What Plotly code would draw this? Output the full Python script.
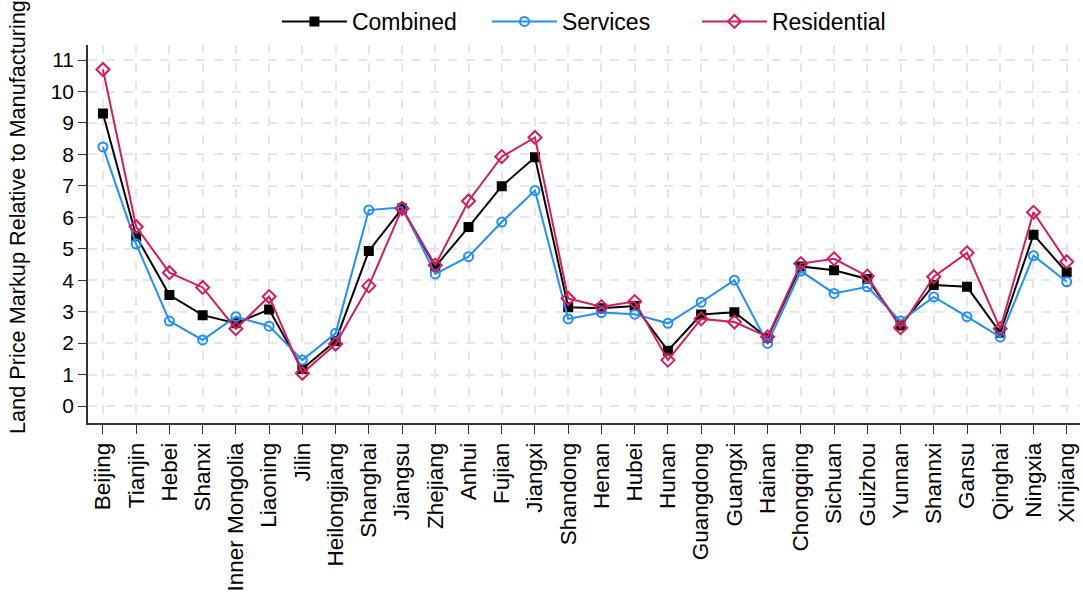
import plotly.graph_objects as go

provinces = ["Beijing", "Tianjin", "Hebei", "Shanxi", "Inner Mongolia", "Liaoning", "Jilin",
             "Heilongjiang", "Shanghai", "Jiangsu", "Zhejiang", "Anhui", "Fujian", "Jiangxi",
             "Shandong", "Henan", "Hubei", "Hunan", "Guangdong", "Guangxi", "Hainan",
             "Chongqing", "Sichuan", "Guizhou", "Yunnan", "Shannxi", "Gansu", "Qinghai",
             "Ningxia", "Xinjiang"]

combined = [9.30, 5.40, 3.53, 2.89, 2.63, 3.07, 1.18, 2.07, 4.93, 6.28, 4.43, 5.69, 6.99, 7.91,
            3.14, 3.11, 3.18, 1.76, 2.91, 2.98, 2.17, 4.44, 4.32, 4.04, 2.56, 3.85, 3.79, 2.33,
            5.45, 4.25]
services = [8.24, 5.15, 2.70, 2.10, 2.84, 2.54, 1.46, 2.31, 6.23, 6.32, 4.20, 4.75, 5.85, 6.85,
            2.77, 2.97, 2.92, 2.63, 3.30, 4.00, 1.99, 4.29, 3.58, 3.79, 2.70, 3.47, 2.84, 2.19,
            4.78, 3.95]
residential = [10.70, 5.70, 4.24, 3.77, 2.46, 3.48, 1.04, 1.97, 3.82, 6.28, 4.48, 6.52, 7.93, 8.54,
               3.42, 3.16, 3.32, 1.46, 2.77, 2.67, 2.20, 4.53, 4.68, 4.13, 2.49, 4.11, 4.87, 2.46,
               6.16, 4.59]

y_ticks = list(range(0, 12))
y_title = "Land Price Markup Relative to Manufacturing"

x = list(range(len(provinces)))

series = [
    ("Combined", combined, "black", "square", 8),
    ("Services", services, "#1f8fff", "circle-open", 9),
    ("Residential", residential, "#d81b5c", "diamond-open", 10),
]

fig = go.Figure()
for name, vals, color, symbol, size in series:
    fig.add_trace(go.Scatter(
        x=x, y=vals, name=name, mode="lines+markers",
        line=dict(color=color, width=2),
        marker=dict(symbol=symbol, size=size, color=color, line=dict(color=color, width=2)),
    ))

fig.update_layout(
    width=1083, height=593,
    margin=dict(l=88, r=3, t=45, b=170, autoexpand=False),
    plot_bgcolor="white", paper_bgcolor="white",
    font=dict(family="Arial, Liberation Sans, sans-serif", color="black", size=21),
    legend=dict(orientation="h", xref="paper", x=0.508, xanchor="center",
                yref="container", y=1.0, yanchor="top",
                font=dict(size=23), itemwidth=65, entrywidth=130,
                bgcolor="rgba(0,0,0,0)"),
    showlegend=True,
    # y-axis title placed as a rotated annotation, left of the tick labels
    annotations=[dict(text=y_title, textangle=-90, showarrow=False,
                      xref="paper", yref="paper", x=-0.0705, y=0.545,
                      xanchor="center", yanchor="middle", font=dict(size=21.7))],
)
fig.update_xaxes(
    range=[-0.45, 29.4], tickmode="array", tickvals=x, ticktext=provinces,
    tickangle=-90, tickfont=dict(size=22.5),
    showline=True, linecolor="#333333", linewidth=1.5,
    ticks="outside", ticklen=9, tickcolor="#333333",
    showgrid=True, gridcolor="#e6e6e6", gridwidth=2, griddash="dash",
    zeroline=False,
)
fig.update_yaxes(
    range=[-0.54, 11.48], tickmode="array", tickvals=y_ticks, tickfont=dict(size=21),
    showline=True, linecolor="#333333", linewidth=1.5,
    ticks="outside", ticklen=8, tickcolor="#333333",
    showgrid=True, gridcolor="#e6e6e6", gridwidth=2, griddash="dash",
    zeroline=False,
)

fig.write_html("out.html")
